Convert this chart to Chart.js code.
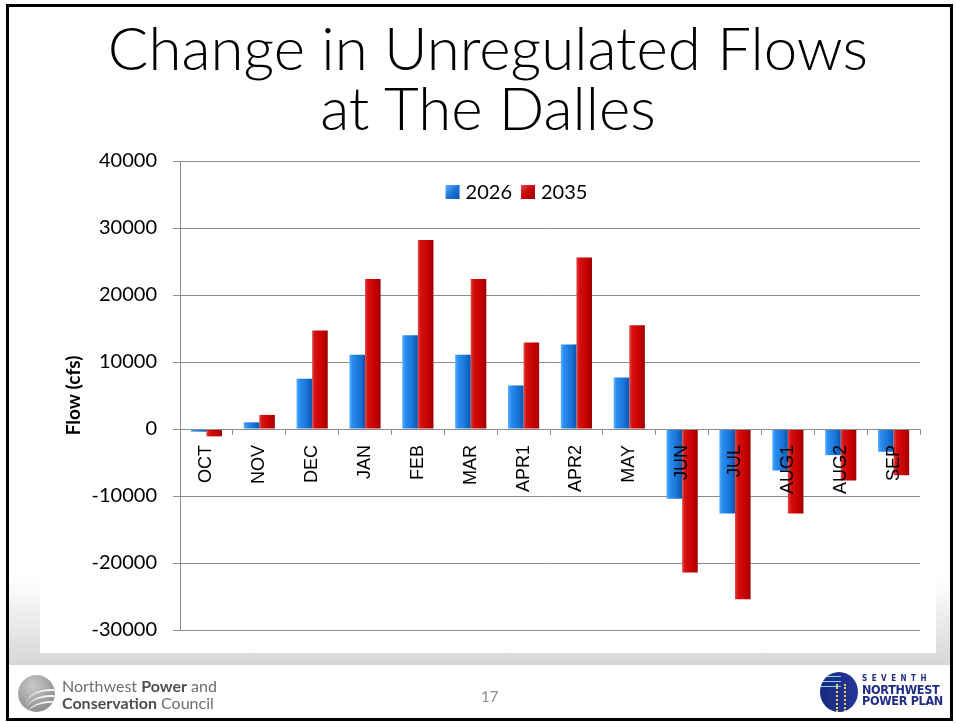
<!DOCTYPE html>
<html>
<head>
<meta charset="utf-8">
<script src="https://cdn.jsdelivr.net/npm/chart.js@4"></script>
<style>
html,body{margin:0;padding:0;background:#fff;}
body{width:956px;height:723px;position:relative;overflow:hidden;font-family:Lato, "DejaVu Sans", sans-serif;}
#frame{position:absolute;left:6px;top:4px;width:947px;height:717px;box-sizing:border-box;border:3px solid #000;}
#shade{position:absolute;left:9px;top:578px;width:941px;height:87px;background:linear-gradient(to bottom, rgba(220,220,220,0) 0%, #dcdcdc 86%, #d6d6d6 100%);}
#white{position:absolute;left:40px;top:560px;width:896px;height:93px;background:#fff;}
.tline{position:absolute;left:0;width:976px;text-align:center;font-family:Lato, sans-serif;font-weight:300;font-size:60px;line-height:60px;color:#000;white-space:nowrap;}
#chart{position:absolute;left:0;top:0;}
#nwlogo{position:absolute;left:18px;top:675px;width:37px;height:37px;border-radius:50%;background:radial-gradient(circle at 40% 30%, #c9c9c9 0%, #9a9a9a 60%, #7c7c7c 100%);overflow:hidden;}
#nwlogo .sw{position:absolute;left:8px;width:50px;height:30px;border-radius:50%;border-top:2px solid #f2f2f2;}
#nwtext{position:absolute;left:62px;top:677px;font-family:Lato, sans-serif;font-size:16px;line-height:17px;color:#6e6e6e;}
#nwtext b{color:#4e4e4e;font-weight:700;}
#page{position:absolute;left:481px;top:687px;font-family:Lato, sans-serif;font-size:15px;color:#8a8a8a;}
#pplogo{position:absolute;left:820px;top:672px;width:38px;height:40px;border-radius:50%;background:
 repeating-linear-gradient(to bottom, transparent 0px, transparent 4px, #8fd3f5 4px, #8fd3f5 5px) left top/55% 45% no-repeat,
 linear-gradient(to right, #1b2a83, #233596);overflow:hidden;}
#pplogo .y{position:absolute;left:16px;top:12px;width:6px;height:28px;border-left:2px dotted #e8d25a;border-right:2px dotted #e8d25a;}
#pptext{position:absolute;left:862px;top:673px;font-family:"DejaVu Sans Condensed","DejaVu Sans",sans-serif;font-weight:bold;color:#1f2d86;line-height:11px;}
#pptext .s{font-size:8px;letter-spacing:4.5px;}
#pptext .n{font-size:12.5px;letter-spacing:-0.3px;}
</style>
</head>
<body>
<div id="frame"></div>
<div id="shade"></div>
<div id="white"></div>
<div class="tline" style="top:17px;">Change in Unregulated Flows</div>
<div class="tline" style="top:77px;">at The Dalles</div>
<canvas id="chart" width="956" height="723"></canvas>
<div id="nwlogo"><div class="sw" style="top:14px;"></div><div class="sw" style="top:20px;"></div><div class="sw" style="top:26px;"></div></div>
<div id="nwtext">Northwest <b>Power</b> and<br><b>Conservation</b> Council</div>
<div id="page">17</div>
<div id="pplogo"><div class="y"></div></div>
<div id="pptext"><div class="s">SEVENTH</div><div class="n">NORTHWEST</div><div class="n">POWER PLAN</div></div>
<script>
const categories = ['OCT','NOV','DEC','JAN','FEB','MAR','APR1','APR2','MAY','JUN','JUL','AUG1','AUG2','SEP'];
const flow2026 = [-400, 1000, 7500, 11100, 14000, 11100, 6500, 12600, 7700, -10400, -12600, -6200, -3900, -3400];
const flow2035 = [-1100, 2100, 14700, 22400, 28200, 22400, 12900, 25600, 15500, -21400, -25400, -12600, -7700, -6900];
const seriesNames = ['2026', '2035'];
const yMin = -30000, yMax = 40000, yStep = 10000;
const yTitle = 'Flow (cfs)';

const CAT_PCT = 0.59;
const palettes = [
  {base:'#1f7ee0', stops:['#5cb3ff','#2b8ef0','#1a74d8','#0b55ae']},
  {base:'#cc0000', stops:['#e44a4a','#d51010','#c80000','#9e0000']}
];

function barFill(ctx) {
  const p = palettes[ctx.datasetIndex];
  const chart = ctx.chart;
  if (ctx.type !== 'data' || !chart.chartArea || !chart.scales.x) return p.base;
  const xs = chart.scales.x;
  const center = xs.getPixelForValue(ctx.dataIndex);
  const catW = xs.width / categories.length;
  const bw = catW * CAT_PCT / 2;
  const x0 = ctx.datasetIndex === 0 ? center - bw : center;
  const g = chart.ctx.createLinearGradient(x0, 0, x0 + bw, 0);
  g.addColorStop(0, p.stops[0]);
  g.addColorStop(0.18, p.stops[1]);
  g.addColorStop(0.65, p.stops[2]);
  g.addColorStop(1, p.stops[3]);
  return g;
}

const insideLegend = {
  id: 'insideLegend',
  afterDraw(chart) {
    const ctx = chart.ctx, area = chart.chartArea;
    const cx = area.left + area.width * 0.4547;
    const cy = area.top + 31;
    ctx.save();
    ctx.font = '20px Lato, sans-serif';
    ctx.textBaseline = 'middle';
    const box = 14, gap = 6, spacing = 9;
    const items = chart.data.datasets.map((d, i) => ({label: d.label, i, w: ctx.measureText(d.label).width}));
    let total = 0;
    items.forEach((it, k) => { total += box + gap + it.w + (k ? spacing : 0); });
    let x = cx - total / 2;
    items.forEach((it) => {
      const p = palettes[it.i];
      const g = ctx.createLinearGradient(x, cy - box/2, x + box, cy + box/2);
      g.addColorStop(0, p.stops[0]); g.addColorStop(0.5, p.stops[2]); g.addColorStop(1, p.stops[3]);
      ctx.fillStyle = g;
      ctx.fillRect(x, cy - box / 2, box, box);
      x += box + gap;
      ctx.fillStyle = '#000';
      ctx.fillText(it.label, x, cy + 1);
      x += it.w + spacing;
    });
    ctx.restore();
  }
};

new Chart(document.getElementById('chart'), {
  type: 'bar',
  data: {
    labels: categories,
    datasets: [
      {label: seriesNames[0], data: flow2026, backgroundColor: barFill, borderWidth: 0, categoryPercentage: CAT_PCT, barPercentage: 1},
      {label: seriesNames[1], data: flow2035, backgroundColor: barFill, borderWidth: 0, categoryPercentage: CAT_PCT, barPercentage: 1}
    ]
  },
  options: {
    responsive: false,
    animation: false,
    layout: {padding: {left: 58, top: 161, right: 36, bottom: 93}},
    plugins: {legend: {display: false}, tooltip: {enabled: false}},
    scales: {
      x: {
        position: {y: 0},
        grid: {drawOnChartArea: false, drawTicks: true, tickLength: 5, offset: true, color: '#8c8c8c', z: 1},
        border: {color: '#8c8c8c', z: 1},
        ticks: {z: 1, minRotation: 90, maxRotation: 90, autoSkip: false, padding: 11, color: '#000', font: {family: 'Liberation Sans', size: 18}},
        afterFit(s) { s.height = 0; }
      },
      y: {
        min: yMin, max: yMax,
        ticks: {stepSize: yStep, padding: 16, color: '#000', font: {family: 'Lato', size: 20}, callback: (v) => String(v)},
        grid: {color: '#8c8c8c', tickLength: 7},
        border: {color: '#8c8c8c'},
        title: {display: true, text: yTitle, color: '#000', font: {family: 'Lato', size: 19, weight: 'bold'}},
        afterFit(s) { s.width = 122; }
      }
    }
  },
  plugins: [insideLegend]
});
</script>
</body>
</html>
